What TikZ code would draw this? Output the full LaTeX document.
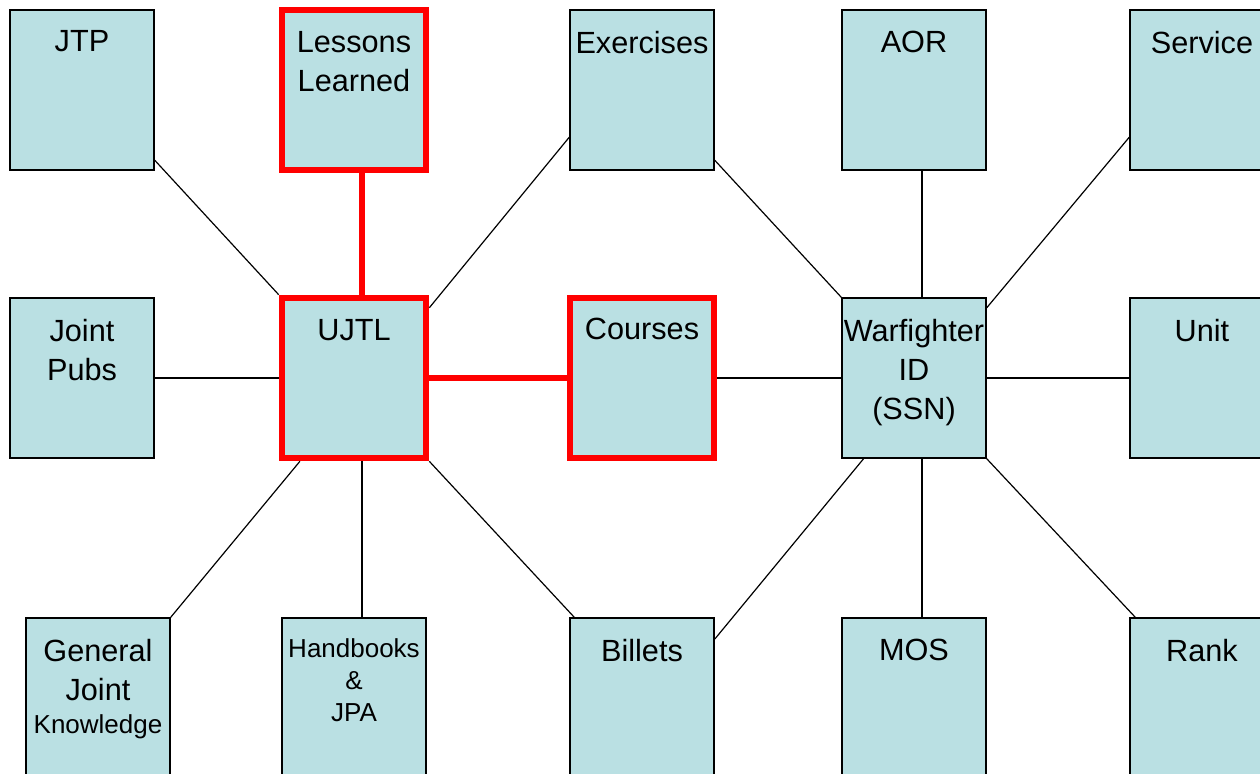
\documentclass[tikz,border=0pt]{standalone}
\usepackage{fontspec}
\setmainfont{Liberation Sans}
\usepackage{xcolor}

\definecolor{boxfill}{RGB}{186,224,227}

\tikzset{
  box/.style={draw=black, line width=1.2pt, fill=boxfill, minimum width=108pt, minimum height=120pt, inner sep=0pt},
  redbox/.style={box, draw=red, line width=5pt},
  lbl/.style={anchor=north, inner sep=0pt, yshift=-16pt, align=center, draw=none, fill=none, font=\fontsize{23}{29.5}\selectfont},
  smalllbl/.style={lbl, font=\fontsize{19.5}{24}\selectfont},
  link/.style={line width=0.9pt},
  redlink/.style={draw=red, line width=5pt}
}

\begin{document}
\begin{tikzpicture}[x=0.75pt,y=0.75pt,yscale=-1,xscale=1]

\path[use as bounding box, clip] (0,0) rectangle (1260,774);


\node[box, label={[lbl]north:JTP}] (jtp) at (82,90) {};

\node[redbox, label={[lbl, yshift=-2pt]north:Lessons\\Learned}] (lessons) at (354,90) {};

\node[box, label={[lbl]north:Exercises}] (exercises) at (642,90) {};

\node[box, label={[lbl]north:AOR}] (aor) at (914,90) {};

\node[box, label={[lbl]north:Service}] (service) at (1202,90) {};

\node[box, label={[lbl]north:Joint\\Pubs}] (jp) at (82,378) {};

\node[redbox, label={[lbl, yshift=-2pt]north:UJTL}] (ujtl) at (354,378) {};

\node[redbox, label={[lbl, yshift=-1pt]north:Courses}] (courses) at (642,378) {};

\node[box, label={[lbl]north:Warfighter\\ID\\(SSN)}] (warf) at (914,378) {};

\node[box, label={[lbl]north:Unit}] (unit) at (1202,378) {};

\node[box, label={[lbl]north:General\\Joint\\[-4.75pt]{\fontsize{19.5}{24}\selectfont Knowledge}}] (gjk) at (98,698) {};

\node[box, label={[smalllbl]north:Handbooks\\\&\\JPA}] (hbk) at (354,698) {};

\node[box, label={[lbl]north:Billets}] (billets) at (642,698) {};

\node[box, label={[lbl]north:MOS}] (mos) at (914,698) {};

\node[box, label={[lbl]north:Rank}] (rank) at (1202,698) {};


\draw[link] (jtp.-44) -- (ujtl.north west);

\draw[redlink] ([xshift=6pt]lessons.south) -- ([xshift=6pt]ujtl.north);

\draw[link] (exercises.-147) -- (ujtl.43);

\draw[link] (jp.east) -- (ujtl.west);

\draw[redlink] (ujtl.east) -- (courses.west);

\draw[link] (courses.east) -- (warf.west);

\draw[link] (exercises.-44) -- (warf.north west);

\draw[link] ([xshift=6pt]aor.south) -- ([xshift=6pt]warf.north);

\draw[link] (service.-147) -- (warf.44);

\draw[link] (warf.east) -- (unit.west);

\draw[link] (ujtl.237) -- (gjk.north east);

\draw[link] ([xshift=6pt]ujtl.south) -- ([xshift=6pt]hbk.north);

\draw[link] (ujtl.south east) -- ([xshift=3.75pt]billets.north west);

\draw[link] (warf.238) -- (billets.39);

\draw[link] ([xshift=6pt]warf.south) -- ([xshift=6pt]mos.north);

\draw[link] (warf.south east) -- ([xshift=4.5pt]rank.north west);


\end{tikzpicture}
\end{document}
